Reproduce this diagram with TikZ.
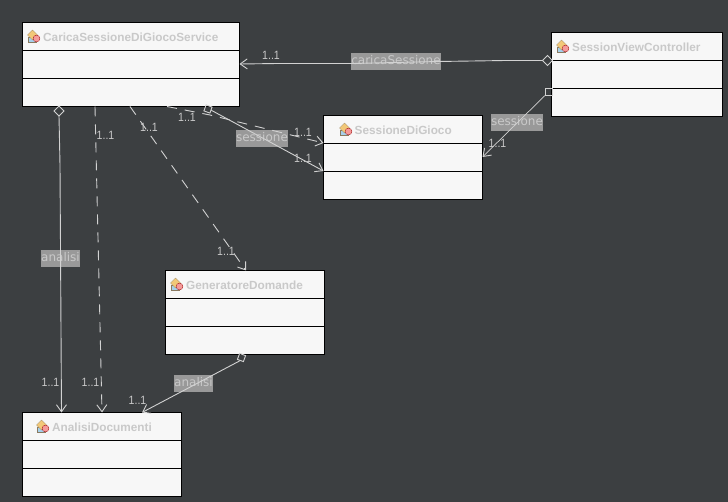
\documentclass[tikz,border=0pt]{standalone}
\usepackage{fontspec}
\setmainfont{Liberation Sans}
\newfontfamily\lblfont{DejaVu Sans}
\newfontfamily\multfont[FakeStretch=0.88]{Liberation Sans}
\usetikzlibrary{arrows.meta,shapes.geometric}
\definecolor{bgc}{HTML}{3C3F41}
\definecolor{boxc}{HTML}{F7F7F7}
\definecolor{txtc}{HTML}{C9C9C9}
\definecolor{lnc}{HTML}{D2D2D2}
\definecolor{lblc}{HTML}{999999}
\definecolor{icoblue}{HTML}{A6D0EC}
\definecolor{icoorange}{HTML}{F2C878}
\definecolor{icopink}{HTML}{F49A9A}
\definecolor{icoedge}{HTML}{8A7A60}
\tikzset{
 umlbox/.style={draw=black,fill=boxc,line width=1pt,rectangle,anchor=north west,outer sep=0pt,inner sep=0pt},
 divider/.style={draw=black,line width=1pt},
 cname/.style={anchor=west,text=txtc,inner sep=0pt,font=\fontsize{11.8}{12}\selectfont\bfseries},
 mult/.style={text=txtc,inner sep=0pt,font=\multfont\fontsize{12}{12}\selectfont},
 rolelbl/.style={fill=lblc,text=txtc,inner sep=0pt,font=\lblfont\fontsize{12}{12}\selectfont,text height=9pt,text depth=2pt},
 conn/.style={draw=lnc,line width=0.9pt},
 assoc/.style={conn,-{Straight Barb[length=7pt,width=10pt,line width=0.9pt]}},
 dep/.style={assoc,dash pattern=on 10pt off 8pt},
 aggr/.style={draw=lnc,line width=0.9pt,diamond,inner sep=0pt,outer sep=0pt,minimum width=10pt,minimum height=10pt},
 sqr/.style={draw=lnc,line width=0.9pt,rectangle,inner sep=0pt,outer sep=0pt,minimum size=7pt},
 pics/icon/.style={code={
   \fill[icoblue,draw=icoedge,line width=0.3pt] (-6,1) rectangle (2,6);
   \fill[icoorange,draw=icoedge,line width=0.3pt] (-1.5,-6) -- (3.5,-1) -- (-1.5,4) -- (-6.5,-1) -- cycle;
   \fill[icopink,draw=red!60!black,line width=0.3pt] (2.5,2.5) circle (3.4);
 }},
}
\begin{document}
\begin{tikzpicture}[x=1pt,y=-1pt]
\useasboundingbox (0,0) rectangle (728,502);
\fill[bgc] (0,0) rectangle (728,502);
% class boxes
\node[umlbox,minimum width=217pt,minimum height=84pt] (carica) at (22.5,22.5) {};
\node[umlbox,minimum width=171pt,minimum height=84pt] (svc) at (551.5,32.5) {};
\node[umlbox,minimum width=159pt,minimum height=84pt] (sdg) at (323.5,115.5) {};
\node[umlbox,minimum width=159pt,minimum height=84pt] (gd) at (165.5,270.5) {};
\node[umlbox,minimum width=159pt,minimum height=84pt] (ad) at (22.5,412.5) {};
\foreach \n/\a/\b in {carica/50.5/78.5,svc/60.5/88.5,sdg/143.5/171.5,gd/298.5/326.5,ad/440.5/468.5}{
  \draw[divider] (\n.west |- 0,\a) -- (\n.east |- 0,\a);
  \draw[divider] (\n.west |- 0,\b) -- (\n.east |- 0,\b);
}
% icons
\path (34,36) pic {icon} (563,46) pic {icon} (346,129) pic {icon} (177,284) pic {icon} (43,426) pic {icon};
% class names
\node[cname] (ncarica) at (43,37) {CaricaSessioneDiGiocoService};
\node[cname] (nsvc) at (572,47) {SessionViewController};
\node[cname] (nsdg) at (354.5,130) {SessioneDiGioco};
\node[cname] (ngd) at (186,285) {GeneratoreDomande};
\node[cname] (nad) at (52,427) {AnalisiDocumenti};
% role labels
\node[rolelbl,minimum width=86pt,minimum height=17pt] (l1) at (396,61.5) {caricaSessione};
\node[rolelbl,minimum width=52pt,minimum height=17pt] (l2) at (517,122.5) {sessione};
\node[rolelbl,minimum width=52pt,minimum height=17pt] (l3) at (262,138.5) {sessione};
\node[rolelbl,minimum width=37pt,minimum height=17pt] (l4) at (60.5,258.5) {analisi};
\node[rolelbl,minimum width=37pt,minimum height=17pt] (l5) at (193.5,383.5) {analisi};
% end markers
\node[aggr] (d1) at (547.5,60.5) {};
\node[sqr] (s1) at (548.5,92) {};
\node[aggr] (d2) at (59,111) {};
\node[aggr,rotate=25,minimum width=9pt,minimum height=9pt] (d3) at (208,109) {};
\node[aggr,rotate=25,minimum width=9pt,minimum height=9pt] (d4) at (241.5,357.5) {};
% connectors
\draw[assoc] (d1.west) -- (506,60.5) -- (438,61.5) -- (353,63.5) -- (278,63.5) -- (carica.east |- 0,64);
\draw[assoc,line width=0.7pt] (s1.south west) -- (sdg.east |- 0,157);
\draw[assoc] (d2.south) -- (60,165) -- (61.5,0 |- ad.north);
\draw[dep] (95,0 |- carica.south) -- (102,0 |- ad.north);
\draw[dep] (130,0 |- carica.south) -- (246,0 |- gd.north);
\draw[dep] (167,0 |- carica.south) -- (210,115) -- (sdg.west |- 0,143);
\draw[assoc] (d3.south east) -- (sdg.west |- 0,171);
\draw[assoc] (d4.south west) -- (142,0 |- ad.north);
% multiplicities
\node[mult] (m1) at (271,55) {1..1};
\node[mult] (m2) at (497.5,143) {1..1};
\node[mult] (m3) at (105.5,135.5) {1..1};
\node[mult] (m4) at (149,127) {1..1};
\node[mult] (m5) at (187,117.5) {1..1};
\node[mult] (m6) at (303,132) {1..1};
\node[mult] (m7) at (303,158) {1..1};
\node[mult] (m8) at (50.5,382) {1..1};
\node[mult] (m9) at (90.5,382) {1..1};
\node[mult] (m10) at (226,251) {1..1};
\node[mult] (m11) at (137.5,400) {1..1};
\end{tikzpicture}
\end{document}
